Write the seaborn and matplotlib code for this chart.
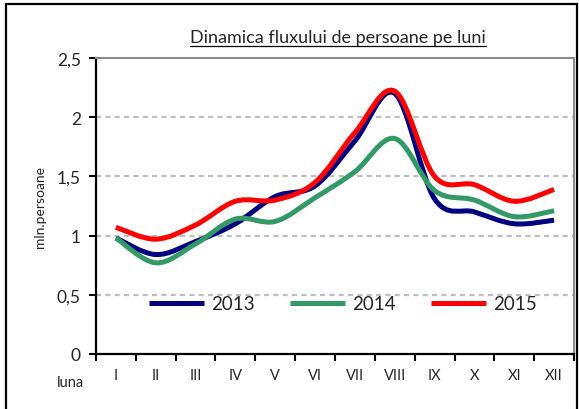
import numpy as np
import pandas as pd
import matplotlib
matplotlib.use("Agg")
import matplotlib.pyplot as plt
from matplotlib.path import Path
from matplotlib.patches import PathPatch, Rectangle
from matplotlib.lines import Line2D
import seaborn as sns

# data
luni = ["I", "II", "III", "IV", "V", "VI", "VII", "VIII", "IX", "X", "XI", "XII"]
v2013 = [0.98, 0.84, 0.95, 1.10, 1.33, 1.42, 1.80, 2.20, 1.31, 1.20, 1.10, 1.13]
v2014 = [0.98, 0.77, 0.93, 1.14, 1.12, 1.32, 1.54, 1.82, 1.38, 1.30, 1.16, 1.21]
v2015 = [1.07, 0.97, 1.09, 1.29, 1.30, 1.45, 1.87, 2.22, 1.50, 1.43, 1.29, 1.39]
ani = ["2013", "2014", "2015"]
culori = ["#000080", "#339966", "#FF0000"]

df = pd.DataFrame({
    "luna": luni * 3,
    "poz": list(range(12)) * 3,
    "val": v2013 + v2014 + v2015,
    "an": [a for a in ani for _ in luni],
})

sns.set_style("white")
plt.rcParams["font.family"] = ["Lato", "DejaVu Sans"]

fig = plt.figure(figsize=(5.79, 4.10), dpi=100)
ax = fig.add_axes([96 / 579, 55 / 410, 478 / 579, 296 / 410])

# seaborn draws the series, then the straight segments are swapped for
# smoothed bezier curves like the excel "smoothed line" option
sns.lineplot(data=df, x="poz", y="val", hue="an", palette=culori, legend=False, ax=ax)
for ln in ax.lines:
    ln.set_visible(False)


def smooth_path(ys):
    pts = np.column_stack([np.arange(len(ys)), ys]).astype(float)
    verts = [pts[0]]
    codes = [Path.MOVETO]
    n = len(pts)
    for i in range(n - 1):
        p0 = pts[max(i - 1, 0)]
        p1 = pts[i]
        p2 = pts[i + 1]
        p3 = pts[min(i + 2, n - 1)]
        c1 = p1 + (p2 - p0) / 6.0
        c2 = p2 - (p3 - p1) / 6.0
        verts += [c1, c2, p2]
        codes += [Path.CURVE4] * 3
    return Path(verts, codes)


for an, col in zip(ani, culori):
    ys = df.loc[df["an"] == an, "val"].to_numpy()
    ax.add_patch(PathPatch(smooth_path(ys), facecolor="none", edgecolor=col,
                           lw=3.6, capstyle="butt", joinstyle="round", zorder=3))

ax.set_xlim(-0.5, 11.5)
ax.set_ylim(0, 2.5)
ax.set_xticks(np.arange(-0.5, 12, 1))
ax.set_xticklabels([])
ax.set_xticks(np.arange(12), minor=True)
ax.set_xticklabels(luni, minor=True, fontsize=10.5)
ax.tick_params(axis="x", which="major", bottom=True, length=5, width=1.5,
               color="black", direction="out")
ax.tick_params(axis="x", which="minor", bottom=True, length=0, pad=10)
ax.set_yticks([0, 0.5, 1, 1.5, 2, 2.5])
ax.set_yticklabels(["0", "0,5", "1", "1,5", "2", "2,5"], fontsize=12.5)
ax.tick_params(axis="y", left=True, length=5, width=1.5, color="black",
               direction="out", pad=6)
ax.set_xlabel("")
ax.set_ylabel("mln.persoane", fontsize=10, labelpad=8)

for y in [0.5, 1, 1.5, 2]:
    ax.axhline(y, color="#BFBFBF", lw=1.6, ls=(0, (2.3, 1.9)), zorder=1)

for s in ["left", "bottom"]:
    ax.spines[s].set_color("black")
    ax.spines[s].set_linewidth(1.6)
for s in ["top", "right"]:
    ax.spines[s].set_visible(True)
    ax.spines[s].set_color("#8C8C8C")
    ax.spines[s].set_linewidth(1.5)

handles = [Line2D([], [], color=c, lw=3.6, solid_capstyle="butt") for c in culori]
ax.legend(handles, ani, loc="center", bbox_to_anchor=(0.517, 0.17), ncol=3,
          frameon=False, fontsize=13.5, handlelength=2.9, handletextpad=0.4,
          columnspacing=1.9)

fig.text(70 / 579, 1 - 383 / 410, "luna", ha="center", va="center", fontsize=10.5)

titlu = fig.text(338 / 579, 1 - 38 / 410, "Dinamica fluxului de persoane pe luni",
                 ha="center", va="center", fontsize=13)

# outer chart-area border
fig.patches.append(Rectangle((6 / 579, -0.05), 571 / 579, 1.05 - 5 / 410,
                             transform=fig.transFigure, fill=False,
                             edgecolor="black", lw=1.6, zorder=0))

# underline for the title
fig.canvas.draw()
bb = titlu.get_window_extent()
fig.add_artist(Line2D([bb.x0 / 579, bb.x1 / 579], [(bb.y0 - 1) / 410] * 2,
                      transform=fig.transFigure, color="black", lw=0.9))

fig.savefig("out.png", dpi=100)
